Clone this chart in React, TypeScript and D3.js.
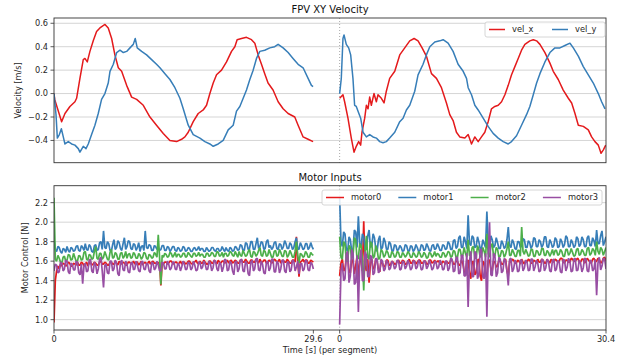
import React from "react";
import * as d3 from "d3";

// segment lengths in seconds and the gap placed between them on the shared axis
const SEG1_END = 29.6;
const SEG2_END = 30.4;
const SEG_GAP = 3.0;

// velocity samples [t, v]
const velX1 = [[0,0.0],[0.08,-0.05],[0.87,-0.24],[1.25,-0.17],[1.82,-0.11],[2.39,-0.07],[2.58,-0.04],[2.96,0.13],[3.34,0.29],[3.53,0.30],[3.80,0.27],[4.10,0.36],[4.48,0.45],[4.86,0.53],[5.24,0.56],[5.82,0.59],[6.19,0.56],[6.58,0.47],[6.95,0.33],[7.34,0.22],[7.72,0.19],[8.29,0.07],[8.86,-0.03],[9.43,-0.05],[10.19,-0.10],[10.95,-0.20],[11.70,-0.27],[12.47,-0.34],[13.23,-0.40],[13.99,-0.41],[14.56,-0.39],[14.94,-0.37],[15.32,-0.33],[15.89,-0.24],[16.46,-0.17],[17.03,-0.14],[17.41,-0.10],[17.79,0.0],[18.17,0.09],[18.55,0.16],[19.12,0.20],[19.69,0.27],[20.26,0.36],[20.64,0.40],[20.90,0.46],[21.40,0.47],[21.97,0.48],[22.54,0.46],[22.92,0.43],[23.30,0.33],[23.68,0.25],[24.05,0.17],[24.43,0.09],[25.0,0.03],[25.58,-0.07],[26.15,-0.13],[26.72,-0.17],[27.48,-0.20],[27.86,-0.27],[28.43,-0.37],[29.0,-0.39],[29.57,-0.41]];
const velY1 = [[0,0.0],[0.23,-0.18],[0.38,-0.38],[0.61,-0.35],[0.84,-0.30],[1.06,-0.37],[1.25,-0.43],[1.63,-0.41],[2.01,-0.43],[2.39,-0.44],[2.77,-0.47],[2.96,-0.50],[3.34,-0.45],[3.65,-0.47],[3.91,-0.43],[4.29,-0.35],[4.67,-0.27],[5.05,-0.17],[5.43,-0.05],[5.81,0.0],[6.19,0.09],[6.39,0.19],[6.77,0.25],[7.15,0.35],[7.53,0.37],[7.91,0.35],[8.29,0.36],[8.67,0.39],[9.05,0.42],[9.27,0.47],[9.50,0.39],[10.0,0.36],[10.57,0.33],[11.14,0.29],[11.70,0.25],[12.09,0.22],[12.66,0.17],[13.23,0.12],[13.80,0.05],[14.37,-0.04],[14.75,-0.13],[15.32,-0.27],[15.89,-0.35],[16.65,-0.38],[17.22,-0.41],[17.79,-0.43],[18.17,-0.45],[18.74,-0.43],[19.31,-0.40],[19.88,-0.31],[20.45,-0.27],[20.83,-0.15],[21.21,-0.11],[21.59,-0.04],[21.97,0.03],[22.35,0.12],[22.73,0.20],[23.11,0.30],[23.49,0.36],[24.05,0.37],[24.63,0.39],[25.19,0.40],[25.58,0.42],[26.15,0.39],[26.72,0.35],[27.28,0.30],[27.86,0.25],[28.43,0.22],[29.0,0.13],[29.38,0.07],[29.57,0.06]];
const velX2 = [[0,-0.04],[0.38,-0.01],[0.57,-0.07],[0.95,-0.21],[1.33,-0.38],[1.64,-0.50],[1.9,-0.45],[2.17,-0.41],[2.4,-0.44],[2.55,-0.33],[2.86,-0.21],[3.05,-0.10],[3.24,-0.13],[3.43,-0.03],[3.62,-0.10],[3.92,0.0],[4.19,-0.07],[4.38,-0.01],[4.76,-0.04],[5.07,-0.08],[5.33,0.02],[5.71,0.13],[6.29,0.19],[6.86,0.33],[7.43,0.39],[8.0,0.45],[8.50,0.47],[8.95,0.45],[9.41,0.39],[9.90,0.32],[10.48,0.17],[11.05,0.13],[11.62,0.05],[12.19,-0.08],[12.57,-0.18],[12.95,-0.23],[13.33,-0.33],[13.71,-0.37],[14.29,-0.38],[14.67,-0.35],[15.05,-0.43],[15.43,-0.37],[15.81,-0.41],[16.19,-0.37],[16.57,-0.33],[16.95,-0.24],[17.33,-0.13],[17.71,-0.11],[18.1,-0.10],[18.48,-0.07],[18.86,-0.01],[19.24,0.07],[19.62,0.16],[20.0,0.23],[20.38,0.30],[20.76,0.37],[21.14,0.42],[21.71,0.45],[22.1,0.46],[22.48,0.45],[22.86,0.42],[23.43,0.35],[24.0,0.26],[24.38,0.19],[24.95,0.12],[25.52,0.03],[26.1,-0.04],[26.48,-0.08],[26.86,-0.17],[27.24,-0.27],[27.81,-0.28],[28.38,-0.31],[28.76,-0.37],[29.14,-0.41],[29.52,-0.44],[29.83,-0.51],[30.1,-0.48],[30.37,-0.44]];
const velY2 = [[0,0.0],[0.19,0.13],[0.38,0.47],[0.50,0.50],[0.76,0.42],[1.03,0.39],[1.26,0.33],[1.52,0.13],[1.71,-0.10],[1.9,-0.11],[2.10,-0.15],[2.4,-0.21],[2.67,-0.33],[3.05,-0.37],[3.43,-0.35],[3.81,-0.37],[4.19,-0.38],[4.57,-0.41],[4.95,-0.42],[5.33,-0.41],[5.71,-0.38],[6.29,-0.33],[6.86,-0.24],[7.24,-0.21],[7.62,-0.14],[8.0,-0.10],[8.57,0.02],[8.95,0.16],[9.52,0.25],[9.90,0.33],[10.29,0.40],[10.86,0.44],[11.43,0.45],[11.81,0.46],[12.38,0.43],[12.95,0.36],[13.52,0.25],[14.1,0.19],[14.48,0.13],[14.67,0.05],[15.05,-0.01],[15.43,-0.10],[15.81,-0.14],[16.38,-0.21],[16.95,-0.28],[17.52,-0.34],[18.1,-0.38],[18.67,-0.41],[19.24,-0.43],[19.62,-0.41],[20.19,-0.36],[20.76,-0.27],[21.33,-0.18],[21.71,-0.11],[22.1,-0.01],[22.48,0.09],[22.86,0.17],[23.43,0.27],[24.0,0.35],[24.57,0.39],[25.14,0.39],[25.71,0.41],[26.29,0.43],[26.67,0.39],[27.24,0.32],[27.81,0.23],[28.38,0.16],[28.95,0.09],[29.52,0.0],[29.9,-0.07],[30.29,-0.13]];

// motor commands, evenly sampled over each segment
const motor0Seg1 = [
  0.97,1.40,1.50,1.55,1.52,1.57,1.55,1.58,1.57,1.55,1.56,1.59,1.58,1.55,1.55,1.58,1.57,1.56,1.59,1.56,
  1.56,1.59,1.58,1.55,1.57,1.59,1.55,1.58,1.59,1.56,1.57,1.59,1.58,1.56,1.56,1.59,1.60,1.57,1.57,1.59,
  1.58,1.56,1.56,1.59,1.59,1.57,1.57,1.60,1.58,1.56,1.60,1.58,1.57,1.59,1.58,1.56,1.56,1.59,1.59,1.57,
  1.58,1.60,1.57,1.59,1.59,1.56,1.58,1.60,1.56,1.58,1.59,1.57,1.58,1.60,1.57,1.59,1.60,1.58,1.58,1.57,
  1.58,1.59,1.35,1.58,1.57,1.59,1.59,1.57,1.58,1.60,1.60,1.58,1.57,1.59,1.59,1.57,1.58,1.60,1.57,1.59,
  1.59,1.57,1.58,1.60,1.60,1.58,1.57,1.59,1.59,1.61,1.58,1.57,1.60,1.58,1.58,1.61,1.59,1.57,1.57,1.60,
  1.60,1.58,1.58,1.61,1.59,1.57,1.61,1.59,1.58,1.60,1.60,1.58,1.59,1.61,1.58,1.60,1.61,1.58,1.59,1.61,
  1.60,1.58,1.58,1.61,1.61,1.59,1.59,1.62,1.60,1.58,1.58,1.61,1.61,1.59,1.59,1.62,1.60,1.58,1.62,1.59,
  1.59,1.61,1.61,1.58,1.58,1.61,1.60,1.58,1.59,1.62,1.61,1.59,1.60,1.62,1.58,1.60,1.61,1.59,1.59,1.62,
  1.60,1.58,1.58,1.61,1.61,1.59,1.85,1.60,1.44,1.59,1.60,1.62,1.59,1.61,1.61,1.58,1.58,1.61,1.60,1.59];
const motor1Seg1 = [
  1.82,1.72,1.70,1.75,1.74,1.70,1.68,1.73,1.72,1.69,1.75,1.71,1.69,1.74,1.73,1.70,1.71,1.75,1.76,1.71,
  1.70,1.76,1.74,1.71,1.78,1.72,1.71,1.77,1.75,1.70,1.69,1.76,1.77,1.71,1.72,1.79,1.80,1.72,1.91,1.74,
  1.73,1.80,1.78,1.71,1.70,1.77,1.82,1.72,1.74,1.81,1.79,1.73,1.71,1.78,1.84,1.72,1.75,1.81,1.80,1.73,
  1.72,1.78,1.77,1.71,1.74,1.79,1.70,1.75,1.76,1.71,1.91,1.74,1.73,1.77,1.76,1.71,1.71,1.76,1.75,1.72,
  1.74,1.71,1.72,1.76,1.76,1.71,1.71,1.75,1.74,1.70,1.72,1.75,1.75,1.71,1.70,1.74,1.73,1.70,1.71,1.75,
  1.74,1.70,1.71,1.74,1.73,1.70,1.70,1.73,1.74,1.71,1.72,1.75,1.71,1.73,1.73,1.70,1.70,1.74,1.72,1.70,
  1.71,1.74,1.74,1.71,1.70,1.73,1.73,1.70,1.71,1.75,1.72,1.70,1.74,1.71,1.70,1.74,1.73,1.70,1.71,1.75,
  1.74,1.71,1.72,1.77,1.76,1.71,1.71,1.79,1.78,1.72,1.73,1.80,1.80,1.72,1.72,1.78,1.84,1.73,1.75,1.80,
  1.79,1.72,1.73,1.80,1.82,1.74,1.76,1.72,1.74,1.79,1.80,1.73,1.72,1.78,1.77,1.72,1.75,1.81,1.78,1.73,
  1.73,1.79,1.77,1.72,1.74,1.80,1.84,1.73,1.72,1.79,1.76,1.72,1.73,1.78,1.78,1.72,1.74,1.79,1.75,1.72];
const motor2Seg1 = [
  2.25,1.62,1.60,1.66,1.63,1.59,1.58,1.64,1.65,1.60,1.61,1.67,1.66,1.61,1.62,1.68,1.64,1.60,1.60,1.66,
  1.65,1.61,1.62,1.69,1.70,1.62,1.61,1.67,1.66,1.62,1.63,1.70,1.75,1.63,1.62,1.68,1.68,1.62,1.64,1.70,
  1.66,1.62,1.61,1.69,1.72,1.63,1.64,1.69,1.67,1.62,1.62,1.68,1.69,1.63,1.65,1.70,1.63,1.67,1.68,1.63,
  1.64,1.69,1.67,1.63,1.63,1.68,1.66,1.62,1.64,1.69,1.68,1.63,1.62,1.67,1.66,1.63,1.64,1.69,1.67,1.64,
  1.87,1.64,1.36,1.66,1.64,1.68,1.67,1.64,1.65,1.69,1.68,1.64,1.66,1.69,1.64,1.67,1.67,1.64,1.65,1.68,
  1.68,1.64,1.65,1.69,1.67,1.65,1.64,1.68,1.68,1.65,1.66,1.69,1.65,1.67,1.67,1.64,1.64,1.68,1.68,1.65,
  1.66,1.69,1.68,1.65,1.65,1.70,1.69,1.65,1.66,1.69,1.64,1.68,1.68,1.65,1.66,1.70,1.69,1.66,1.65,1.70,
  1.67,1.64,1.70,1.66,1.65,1.71,1.68,1.65,1.66,1.70,1.72,1.65,1.64,1.70,1.69,1.65,1.67,1.71,1.74,1.66,
  1.65,1.71,1.70,1.65,1.66,1.72,1.68,1.64,1.64,1.70,1.71,1.65,1.66,1.72,1.69,1.65,1.65,1.71,1.70,1.64,
  1.66,1.71,1.68,1.64,1.64,1.70,1.80,1.66,1.58,1.68,1.67,1.64,1.65,1.70,1.68,1.64,1.64,1.69,1.67,1.66];
const motor3Seg1 = [
  1.50,1.57,1.56,1.48,1.49,1.59,1.58,1.50,1.52,1.61,1.60,1.49,1.47,1.58,1.57,1.51,1.51,1.60,1.59,1.48,
  1.46,1.57,1.37,1.55,1.58,1.49,1.50,1.61,1.62,1.50,1.48,1.59,1.56,1.47,1.52,1.62,1.64,1.50,1.33,1.56,
  1.57,1.48,1.47,1.60,1.60,1.50,1.52,1.61,1.58,1.47,1.45,1.59,1.61,1.51,1.50,1.60,1.57,1.49,1.48,1.58,
  1.59,1.51,1.52,1.60,1.56,1.50,1.49,1.59,1.60,1.52,1.51,1.58,1.57,1.50,1.48,1.59,1.58,1.51,1.53,1.60,
  1.56,1.50,1.50,1.59,1.58,1.52,1.52,1.60,1.57,1.51,1.53,1.59,1.59,1.52,1.51,1.58,1.56,1.50,1.54,1.60,
  1.57,1.51,1.52,1.59,1.58,1.51,1.53,1.60,1.56,1.50,1.51,1.59,1.59,1.52,1.54,1.60,1.57,1.51,1.52,1.60,
  1.58,1.50,1.53,1.61,1.60,1.52,1.50,1.59,1.57,1.49,1.54,1.62,1.61,1.50,1.51,1.60,1.58,1.50,1.46,1.59,
  1.60,1.49,1.52,1.61,1.62,1.50,1.49,1.60,1.58,1.47,1.45,1.59,1.61,1.50,1.52,1.62,1.63,1.51,1.50,1.60,
  1.57,1.48,1.47,1.59,1.60,1.50,1.53,1.62,1.62,1.49,1.49,1.60,1.58,1.48,1.52,1.61,1.61,1.50,1.48,1.59,
  1.59,1.49,1.51,1.61,1.60,1.50,1.54,1.60,1.47,1.57,1.58,1.50,1.52,1.61,1.60,1.51,1.50,1.59,1.57,1.52];
const motor0Seg2 = [
  1.45,1.58,1.62,1.50,1.52,1.64,1.66,1.49,1.48,1.62,1.60,1.47,1.55,1.65,1.42,1.60,1.63,1.50,2.01,1.55,
  1.50,1.62,1.38,1.58,1.62,1.52,1.53,1.63,1.60,1.51,1.49,1.61,1.58,1.54,1.55,1.61,1.61,1.56,1.56,1.60,
  1.59,1.57,1.57,1.60,1.61,1.58,1.58,1.61,1.60,1.57,1.57,1.60,1.62,1.58,1.58,1.61,1.60,1.57,1.59,1.61,
  1.61,1.58,1.58,1.60,1.60,1.57,1.57,1.61,1.61,1.58,1.59,1.61,1.58,1.60,1.60,1.57,1.57,1.60,1.59,1.57,
  1.60,1.58,1.58,1.61,1.61,1.57,1.57,1.60,1.60,1.56,1.56,1.61,1.58,1.50,1.45,1.60,1.61,1.48,1.42,1.59,
  1.60,1.46,1.48,1.61,1.62,1.45,1.40,1.60,1.58,1.47,1.44,1.61,1.61,1.52,1.50,1.60,1.59,1.54,1.55,1.61,
  1.60,1.57,1.57,1.61,1.62,1.50,1.45,1.60,1.59,1.62,1.61,1.58,1.58,1.61,1.60,1.57,1.62,1.59,1.57,1.61,
  1.59,1.62,1.61,1.58,1.58,1.61,1.60,1.58,1.62,1.59,1.59,1.62,1.61,1.58,1.58,1.62,1.60,1.58,1.62,1.60,
  1.59,1.62,1.61,1.59,1.60,1.63,1.63,1.59,1.58,1.61,1.61,1.59,1.59,1.63,1.62,1.60,1.60,1.62,1.63,1.59,
  1.59,1.62,1.62,1.58,1.60,1.63,1.61,1.59,1.58,1.62,1.63,1.59,1.60,1.63,1.62,1.58,1.59,1.63,1.64,1.60];
const motor1Seg2 = [
  2.26,1.80,1.75,1.90,1.88,1.72,1.70,1.85,1.82,1.70,1.72,1.92,1.90,1.74,2.06,1.78,1.74,1.88,1.85,1.72,
  1.72,1.86,1.92,1.74,1.76,1.88,1.84,1.73,1.70,1.82,1.86,1.72,1.74,1.84,1.80,1.72,1.72,1.80,1.78,1.71,
  1.70,1.77,1.76,1.71,1.72,1.76,1.74,1.70,1.71,1.77,1.76,1.71,1.70,1.76,1.75,1.70,1.72,1.77,1.74,1.70,
  1.71,1.77,1.76,1.71,1.72,1.78,1.75,1.71,1.70,1.76,1.77,1.72,1.73,1.78,1.75,1.71,1.71,1.77,1.76,1.72,
  1.73,1.80,1.78,1.72,1.72,1.81,1.82,1.73,1.75,1.84,1.86,1.74,1.74,1.85,1.80,1.73,2.07,1.78,1.76,1.86,
  1.84,1.74,1.75,1.85,1.80,1.73,1.73,1.82,1.78,1.74,2.11,1.80,1.74,1.86,1.82,1.74,1.76,1.84,1.79,1.73,
  1.73,1.81,1.78,1.73,1.75,1.82,1.95,1.76,1.74,1.82,1.79,1.73,1.72,1.80,1.80,1.74,1.76,1.83,1.82,1.74,
  1.74,1.81,1.79,1.73,1.76,1.84,1.83,1.75,1.75,1.82,1.80,1.74,1.77,1.85,1.85,1.75,1.74,1.82,1.79,1.74,
  1.76,1.84,1.82,1.74,1.75,1.83,1.80,1.74,1.77,1.86,1.84,1.75,1.75,1.82,1.79,1.74,1.76,1.85,1.83,1.75,
  1.77,1.85,1.82,1.75,1.75,1.84,1.86,1.76,1.76,1.84,1.81,1.75,1.92,1.78,1.78,1.86,1.91,1.76,1.80,1.85];
const motor2Seg2 = [
  1.85,1.64,1.62,1.80,1.78,1.60,1.60,1.76,1.74,1.62,1.66,1.84,1.82,1.62,1.63,1.78,1.76,1.62,1.30,1.70,
  1.86,1.64,1.62,1.80,1.78,1.63,1.65,1.76,1.72,1.62,1.63,1.72,1.70,1.64,1.66,1.71,1.69,1.64,1.64,1.70,
  1.68,1.64,1.65,1.70,1.69,1.64,1.64,1.69,1.67,1.64,1.66,1.70,1.68,1.64,1.64,1.69,1.67,1.64,1.65,1.70,
  1.68,1.64,1.65,1.69,1.67,1.63,1.64,1.69,1.68,1.64,1.66,1.70,1.65,1.68,1.67,1.64,1.64,1.69,1.68,1.64,
  1.66,1.70,1.69,1.64,1.65,1.71,1.70,1.64,1.64,1.72,1.72,1.65,1.66,1.74,1.68,1.64,1.82,1.66,1.65,1.74,
  1.75,1.63,1.63,1.76,1.72,1.64,1.66,1.74,1.70,1.64,1.88,1.68,1.64,1.76,1.78,1.65,1.66,1.74,1.72,1.64,
  1.65,1.71,1.70,1.64,1.67,1.73,1.80,1.66,1.66,1.72,1.69,1.65,1.65,1.71,1.71,1.65,1.95,1.70,1.67,1.72,
  1.69,1.65,1.66,1.72,1.72,1.65,1.65,1.71,1.70,1.66,1.67,1.73,1.73,1.66,1.66,1.71,1.69,1.65,1.68,1.72,
  1.66,1.71,1.71,1.66,1.67,1.72,1.70,1.65,1.65,1.72,1.72,1.66,1.68,1.73,1.69,1.65,1.66,1.72,1.73,1.66,
  1.67,1.72,1.70,1.66,1.66,1.73,1.74,1.66,1.68,1.73,1.71,1.66,1.80,1.70,1.67,1.74,1.72,1.66,1.70,1.74];
const motor3Seg2 = [
  0.95,1.50,1.58,1.40,1.42,1.68,1.70,1.38,1.45,1.72,1.68,1.36,1.38,1.66,1.08,1.62,1.72,1.40,1.40,1.70,
  1.66,1.44,1.44,1.66,1.64,1.46,1.48,1.63,1.62,1.48,1.50,1.62,1.60,1.50,1.52,1.61,1.59,1.51,1.53,1.60,
  1.58,1.52,1.54,1.61,1.60,1.51,1.52,1.60,1.59,1.52,1.55,1.61,1.57,1.51,1.53,1.60,1.60,1.52,1.54,1.61,
  1.58,1.51,1.52,1.60,1.60,1.52,1.55,1.61,1.57,1.51,1.53,1.60,1.59,1.52,1.54,1.61,1.58,1.51,1.52,1.60,
  1.60,1.50,1.53,1.63,1.62,1.49,1.50,1.64,1.64,1.47,1.48,1.66,1.66,1.45,1.45,1.68,1.13,1.60,1.70,1.44,
  1.44,1.70,1.68,1.42,1.46,1.72,1.72,1.44,1.42,1.68,1.03,1.66,2.00,1.46,1.45,1.68,1.66,1.44,1.48,1.64,
  1.62,1.48,1.50,1.63,1.60,1.50,1.35,1.62,1.63,1.49,1.52,1.61,1.58,1.49,1.50,1.61,1.61,1.50,1.53,1.61,
  1.59,1.50,1.51,1.62,1.62,1.50,1.54,1.61,1.58,1.49,1.50,1.62,1.61,1.50,1.53,1.62,1.60,1.50,1.49,1.61,
  1.62,1.50,1.52,1.61,1.59,1.49,1.48,1.62,1.61,1.50,1.54,1.63,1.60,1.49,1.50,1.62,1.63,1.50,1.51,1.61,
  1.58,1.49,1.53,1.63,1.62,1.50,1.49,1.61,1.60,1.50,1.52,1.62,1.25,1.58,1.64,1.51,1.55,1.63,1.62,1.52];

const velTicks = [-0.4, -0.2, 0.0, 0.2, 0.4, 0.6];
const motorTicks = [1.0, 1.2, 1.4, 1.6, 1.8, 2.0, 2.2];
const velKeys = ["vel_x", "vel_y"];
const motorKeys = ["motor0", "motor1", "motor2", "motor3"];

const RED = "#e41a1c";
const BLUE = "#377eb8";
const GREEN = "#4daf4a";
const PURPLE = "#984ea3";
const FONT = "DejaVu Sans, sans-serif";

const W = 627;
const H = 362;
const LEFT = 54;
const RIGHT = 606;
const top1 = { y0: 18, y1: 162.7 };
const top2 = { y0: 185.7, y1: 330 };

const x = d3.scaleLinear().domain([0, SEG1_END + SEG_GAP + SEG2_END]).range([LEFT, RIGHT]);
const seg2Start = SEG1_END + SEG_GAP;
const yVel = d3.scaleLinear().domain([-0.59, 0.645]).range([top1.y1, top1.y0]);
const yMot = d3.scaleLinear().domain([0.894, 2.374]).range([top2.y1, top2.y0]);
const fmt = d3.format(".1f");

const sampled = (vals: number[], dur: number, off: number) =>
  vals.map((v, i) => [off + (i * dur) / (vals.length - 1), v] as [number, number]);
const shifted = (pts: number[][], off: number) => pts.map(([t, v]) => [t + off, v] as [number, number]);

const Panel = ({ y, ticks, box, label, labelX, title }: any) => (
  <g>
    {ticks.map((t: number) => (
      <g key={t}>
        <line x1={LEFT} x2={RIGHT} y1={y(t)} y2={y(t)} stroke="#d5d5d5" strokeWidth={1} />
        <line x1={LEFT - 3.5} x2={LEFT} y1={y(t)} y2={y(t)} stroke="#333" strokeWidth={0.8} />
        <text x={LEFT - 6} y={y(t)} dy="0.35em" textAnchor="end" fontSize={8.2} fill="#262626">{fmt(t)}</text>
      </g>
    ))}
    <line x1={x(seg2Start)} x2={x(seg2Start)} y1={box.y0} y2={box.y1} stroke="#aaa" strokeWidth={1} strokeDasharray="1,2" />
    <text x={(LEFT + RIGHT) / 2} y={box.y0 - 5} textAnchor="middle" fontSize={10} fill="#111">{title}</text>
    <text transform={`translate(${labelX},${(box.y0 + box.y1) / 2}) rotate(-90)`} textAnchor="middle" fontSize={8.2} fill="#262626">{label}</text>
  </g>
);

const Frame = ({ box }: any) => (
  <rect x={LEFT} y={box.y0} width={RIGHT - LEFT} height={box.y1 - box.y0} fill="none" stroke="#333" strokeWidth={0.9} />
);

const Legend = ({ x0, y0, w, items, lineW, gapW }: any) => (
  <g>
    <rect x={x0} y={y0} width={w} height={15} rx={2} fill="white" fillOpacity={0.85} stroke="#ccc" strokeWidth={0.8} />
    {items.map((it: any, i: number) => {
      const lx = x0 + 4 + i * gapW;
      return (
        <g key={it.name}>
          <line x1={lx} x2={lx + lineW} y1={y0 + 7.5} y2={y0 + 7.5} stroke={it.color} strokeWidth={1.5} />
          <text x={lx + lineW + 7} y={y0 + 7.5} dy="0.35em" fontSize={8.3} fill="#262626">{it.name}</text>
        </g>
      );
    })}
  </g>
);

export default function App() {
  const lineV = d3.line<[number, number]>().x((d) => x(d[0])).y((d) => yVel(d[1]));
  const lineM = d3.line<[number, number]>().x((d) => x(d[0])).y((d) => yMot(d[1]));

  const velSeries = [
    { color: RED, segs: [shifted(velX1, 0), shifted(velX2, seg2Start)] },
    { color: BLUE, segs: [shifted(velY1, 0), shifted(velY2, seg2Start)] },
  ];
  const motorSeries = [
    { color: RED, segs: [motor0Seg1, motor0Seg2] },
    { color: BLUE, segs: [motor1Seg1, motor1Seg2] },
    { color: GREEN, segs: [motor2Seg1, motor2Seg2] },
    { color: PURPLE, segs: [motor3Seg1, motor3Seg2] },
  ];

  const xTicks = [
    { v: 0, label: "0" },
    { v: SEG1_END, label: "29.6" },
    { v: seg2Start, label: "0" },
    { v: seg2Start + SEG2_END, label: "30.4" },
  ];

  return (
    <svg width={W} height={H} style={{ position: "absolute", left: 0, top: 0, background: "white" }} fontFamily={FONT}>
      <defs>
        <clipPath id="c1"><rect x={LEFT} y={top1.y0} width={RIGHT - LEFT} height={top1.y1 - top1.y0} /></clipPath>
        <clipPath id="c2"><rect x={LEFT} y={top2.y0} width={RIGHT - LEFT} height={top2.y1 - top2.y0} /></clipPath>
      </defs>

      <Panel y={yVel} ticks={velTicks} box={top1} label="Velocity [m/s]" labelX={21} title="FPV XY Velocity" />
      <g clipPath="url(#c1)">
        {velSeries.map((s, i) =>
          s.segs.map((pts, j) => (
            <path key={`${i}-${j}`} d={lineV(pts) || ""} fill="none" stroke={s.color} strokeWidth={1.5} strokeLinejoin="round" />
          ))
        )}
      </g>
      <Frame box={top1} />
      <Legend x0={485} y0={22} w={120} lineW={16} gapW={63}
        items={velKeys.map((k, i) => ({ name: k, color: [RED, BLUE][i] }))} />

      <Panel y={yMot} ticks={motorTicks} box={top2} label="Motor Control [N]" labelX={28} title="Motor Inputs" />
      <g clipPath="url(#c2)">
        {motorSeries.map((s, i) => (
          <g key={i}>
            <path d={lineM(sampled(s.segs[0], SEG1_END, 0)) || ""} fill="none" stroke={s.color} strokeWidth={1.7} strokeLinejoin="bevel" />
            <path d={lineM(sampled(s.segs[1], SEG2_END, seg2Start)) || ""} fill="none" stroke={s.color} strokeWidth={1.7} strokeLinejoin="bevel" />
          </g>
        ))}
      </g>
      <Frame box={top2} />
      <Legend x0={322} y0={190} w={280} lineW={18} gapW={72.3}
        items={motorKeys.map((k, i) => ({ name: k, color: [RED, BLUE, GREEN, PURPLE][i] }))} />

      {xTicks.map((t, i) => (
        <g key={i}>
          <line x1={x(t.v)} x2={x(t.v)} y1={top2.y1} y2={top2.y1 + 3.5} stroke="#333" strokeWidth={0.8} />
          <text x={x(t.v)} y={top2.y1 + 12} textAnchor="middle" fontSize={8.2} fill="#262626">{t.label}</text>
        </g>
      ))}
      <text x={(LEFT + RIGHT) / 2} y={353} textAnchor="middle" fontSize={8.2} fill="#262626">Time [s] (per segment)</text>
    </svg>
  );
}
